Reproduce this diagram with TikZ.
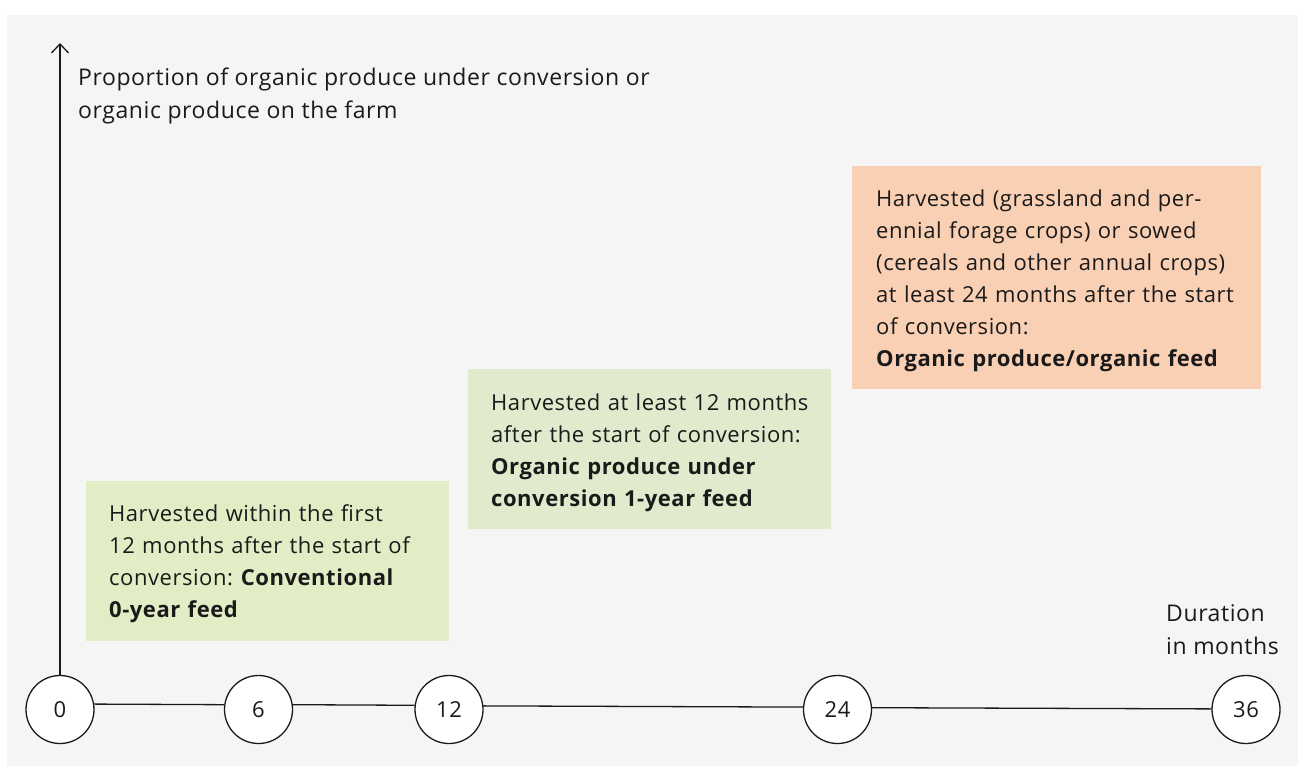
\documentclass[tikz,border=0pt]{standalone}
\usepackage{fontspec}
\setmainfont[LetterSpace=2.5]{Open Sans}
\usetikzlibrary{arrows.meta}
\definecolor{bggray}{HTML}{F5F5F5}
\definecolor{greenA}{HTML}{E2EDC5}
\definecolor{greenB}{HTML}{DFEBCC}
\definecolor{orangeC}{HTML}{FAD0B4}
\definecolor{ink}{HTML}{1A1A1A}
\begin{document}
\frenchspacing
\begin{tikzpicture}[x=1pt,y=-1pt,
  every node/.style={font=\fontsize{22}{32}\selectfont, text=ink},
  tick/.style={circle, draw=ink, line width=1.3pt, fill=white, minimum size=68pt, inner sep=0pt},
  infobox/.style={anchor=north west, inner sep=0pt},
  boxtext/.style={anchor=west, inner sep=0pt, align=left},
  lbl/.style={anchor=north west, inner sep=0pt, align=left, font=\fontsize{23}{33}\selectfont},
  conn/.style={draw=ink, line width=1.3pt}]
\useasboundingbox (0,0) rectangle (1298,766);
\fill[bggray] (7,15) rectangle (1298,766);

% boxes
\node[infobox, fill=greenA, minimum width=363pt, minimum height=160pt] (b1) at (86,481) {};
\node[boxtext, text width=330pt] (t1) at ([xshift=23pt,yshift=-3pt]b1.west)
  {Harvested within the first\\12 months after the start of\\conversion: \textbf{Conventional}\\\textbf{0-year feed}};
\node[infobox, fill=greenB, minimum width=363pt, minimum height=160pt] (b2) at (468,369) {};
\node[boxtext, text width=330pt] (t2) at ([xshift=23pt,yshift=-4pt]b2.west)
  {Harvested at least 12 months\\after the start of conversion:\\\textbf{Organic produce under}\\\textbf{conversion 1-year feed}};
\node[infobox, fill=orangeC, minimum width=409pt, minimum height=223pt] (b3) at (852,166) {};
\node[boxtext, text width=380pt] (t3) at ([xshift=24pt,yshift=-3pt]b3.west)
  {Harvested (grassland and per-\\ennial forage crops) or sowed\\(cereals and other annual crops)\\at least 24 months after the start\\of conversion:\\\textbf{Organic produce/organic feed}};

% labels
\node[lbl] (ylab) at (78,68) {Proportion of organic produce under conversion or\\organic produce on the farm};
\node[lbl] (xlab) at (1166,604) {Duration\\in months};

% ticks
\node[tick] (c0) at (60,709.5) {0};
\node[tick] (c6) at (258.5,709.5) {6};
\node[tick] (c12) at (449,709.5) {12};
\node[tick] (c24) at (837.5,709.5) {24};
\node[tick] (c36) at (1246,709.5) {36};

\coordinate (axtop) at (60,43);
\draw[conn, -{Straight Barb[length=9pt,width=17pt,line width=1.3pt]}] (c0.north) -- (axtop);

\draw[conn] (c0.9) -- (c6.172);
\draw[conn] (c6.8) -- (c12.173);
\draw[conn] (c12.6.5) -- (c24.176);
\draw[conn] (c24.3.5) -- (c36.179);
\end{tikzpicture}
\end{document}
